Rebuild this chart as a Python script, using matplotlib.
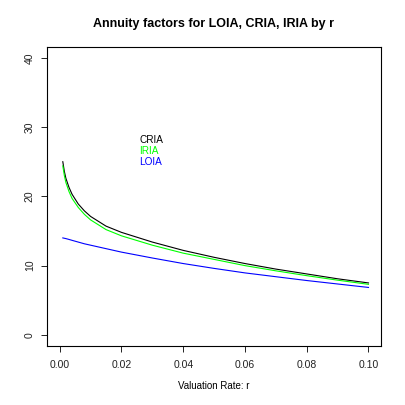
import matplotlib.pyplot as plt

# valuation rates and annuity factors
r = [0.001, 0.0015, 0.002, 0.003, 0.004, 0.006, 0.008, 0.01, 0.015, 0.02,
     0.03, 0.04, 0.05, 0.06, 0.07, 0.08, 0.09, 0.1]
cria = [25.0, 23.6, 22.6, 21.3, 20.3, 18.9, 17.9, 17.1, 15.7, 14.8,
        13.4, 12.2, 11.2, 10.3, 9.5, 8.8, 8.1, 7.5]
iria = [24.4, 23.0, 22.0, 20.7, 19.7, 18.4, 17.4, 16.6, 15.2, 14.3,
        12.95, 11.8, 10.9, 10.0, 9.25, 8.55, 7.9, 7.3]
loia = [14.0, 13.95, 13.9, 13.78, 13.65, 13.4, 13.15, 12.95, 12.45, 11.95,
        11.1, 10.3, 9.6, 8.95, 8.4, 7.85, 7.35, 6.85]

labels = ['CRIA', 'IRIA', 'LOIA']
label_y = [28.2, 26.6, 24.9]
colors = ['black', '#00FF00', '#0000FF']

xticks = [0.00, 0.02, 0.04, 0.06, 0.08, 0.10]
yticks = [0, 10, 20, 30, 40]

plt.rcParams['font.family'] = ['Liberation Sans', 'DejaVu Sans']

fig = plt.figure(figsize=(4.05, 4.05), dpi=100)
ax = fig.add_axes([0.1168, 0.1457, 0.8239, 0.739])

for ys, c in zip([cria, iria, loia], colors):
    ax.plot(r, ys, color=c, lw=0.8)

for lab, yy, c in zip(labels, label_y, colors):
    ax.text(0.0258, yy, lab, color=c, fontsize=7.2, ha='left', va='center')

ax.set_xlim(-0.00402, 0.10405)
ax.set_ylim(-1.6, 41.6)
ax.set_xticks(xticks)
ax.set_xticklabels(['%.2f' % t for t in xticks])
ax.set_yticks(yticks)
ax.set_yticklabels([str(t) for t in yticks], rotation=90, va='center')
ax.tick_params(length=4, width=0.7, labelsize=7.5, pad=5, colors='#222222')
ax.tick_params(axis='x', pad=6)
for s in ax.spines.values():
    s.set_linewidth(0.8)

fig.text(214 / 405, 1 - 24 / 405, 'Annuity factors for LOIA, CRIA, IRIA by r',
         ha='center', va='center', fontsize=9, fontweight='bold')
fig.text(214 / 405, 1 - 385.7 / 405, 'Valuation Rate: r',
         ha='center', va='center', fontsize=7)

fig.savefig('out.png', dpi=100)
